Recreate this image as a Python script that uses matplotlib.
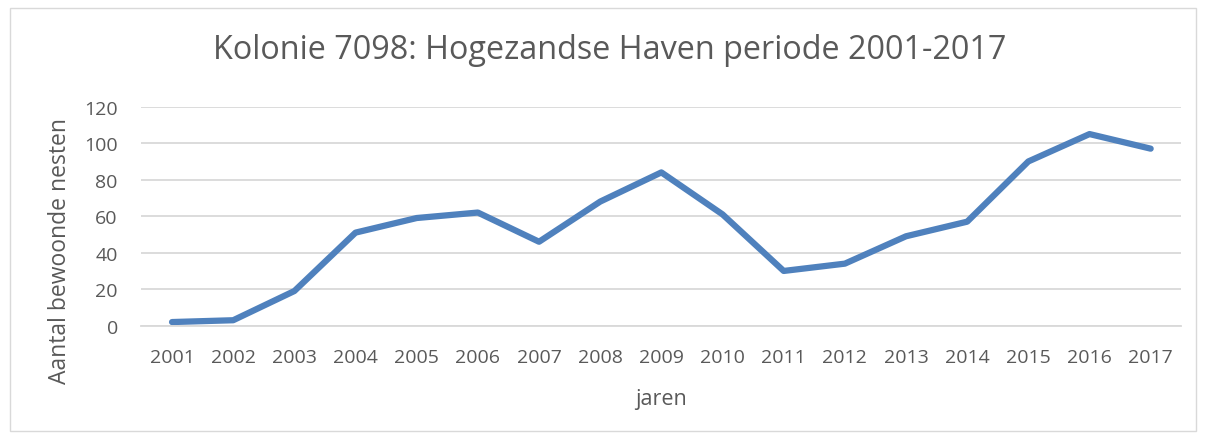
import matplotlib.pyplot as plt
from matplotlib.patches import Rectangle

years = ['2001', '2002', '2003', '2004', '2005', '2006', '2007', '2008', '2009',
         '2010', '2011', '2012', '2013', '2014', '2015', '2016', '2017']
nests = [2, 3, 19, 51, 59, 62, 46, 68, 84, 61, 30, 34, 49, 57, 90, 105, 97]
yticks = [0, 20, 40, 60, 80, 100, 120]

plt.rcParams['font.family'] = ['Open Sans', 'DejaVu Sans']
grey_text = '#595959'
grid_col = '#d9d9d9'

fig = plt.figure(figsize=(12.05, 4.39), dpi=100)
ax = fig.add_axes([0.1174, 0.2558, 0.8629, 0.4989])

x = list(range(len(years)))
ax.plot(x, nests, color='#4f81bd', lw=4.5, solid_capstyle='round', solid_joinstyle='round')

ax.set_xlim(-0.5, len(years) - 0.5)
ax.set_ylim(0, 120)
ax.set_yticks(yticks)
ax.set_xticks(x)
ax.set_xticklabels(years)

ax.grid(axis='y', color=grid_col, lw=1.3)
ax.set_axisbelow(True)
for s in ['top', 'right', 'left']:
    ax.spines[s].set_visible(False)
ax.spines['bottom'].set_color(grid_col)
ax.spines['bottom'].set_linewidth(1.3)
ax.tick_params(length=0, labelsize=14, labelcolor=grey_text)
ax.tick_params(axis='y', pad=17)
ax.tick_params(axis='x', pad=16)

ax.set_xlabel('jaren', fontsize=15.5, color=grey_text, labelpad=16)
ax.set_ylabel('Aantal bewoonde nesten', fontsize=16.5, color=grey_text)
ax.yaxis.set_label_coords(-0.067, 0.346)

fig.text(0.506, 0.885, 'Kolonie 7098: Hogezandse Haven periode 2001-2017',
         ha='center', va='center', fontsize=23.3, color=grey_text)

fig.patches.append(Rectangle((10 / 1205, 1 - 432 / 439), 1186 / 1205, 423 / 439,
                             transform=fig.transFigure, fill=False,
                             edgecolor='#d9d9d9', lw=1))

fig.savefig('out.png', dpi=100)
